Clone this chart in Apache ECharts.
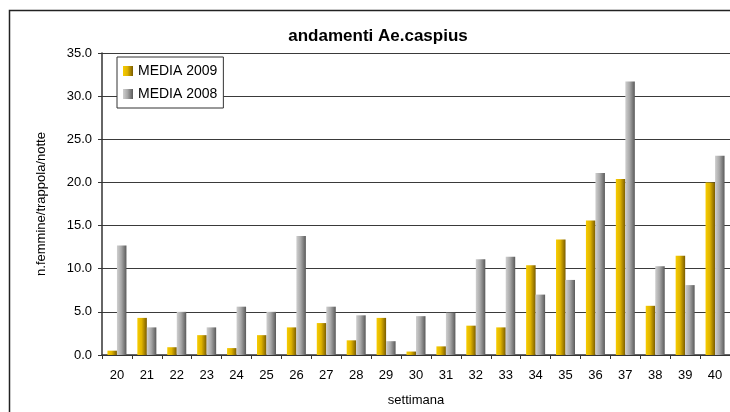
<!DOCTYPE html>
<html>
<head>
<meta charset="UTF-8">
<title>andamenti Ae.caspius</title>
<script src="https://cdn.jsdelivr.net/npm/echarts@6/dist/echarts.min.js"></script>
<style>
html, body { margin: 0; padding: 0; background: #fff; }
#chart { width: 730px; height: 412px; }
</style>
</head>
<body>
<div id="chart"></div>
<script>
// settimane e medie (n. femmine / trappola / notte)
var weeks = ['20','21','22','23','24','25','26','27','28','29','30','31','32','33','34','35','36','37','38','39','40'];
var media2009 = [0.5, 4.3, 0.9, 2.3, 0.8, 2.3, 3.2, 3.7, 1.7, 4.3, 0.4, 1.0, 3.4, 3.2, 10.4, 13.4, 15.6, 20.4, 5.7, 11.5, 20.0];
var media2008 = [12.7, 3.2, 5.0, 3.2, 5.6, 5.0, 13.8, 5.6, 4.6, 1.6, 4.5, 4.9, 11.1, 11.4, 7.0, 8.7, 21.1, 31.7, 10.3, 8.1, 23.1];

function hgrad(c0, c1, c2) {
    return new echarts.graphic.LinearGradient(0, 0, 1, 0, [
        { offset: 0, color: c0 },
        { offset: 0.45, color: c1 },
        { offset: 1, color: c2 }
    ]);
}
var gold = hgrad('#f7cc00', '#e0b400', '#7a5c00');
var grey = hgrad('#cfcfcf', '#a8a8a8', '#5a5a5a');

var chart = echarts.init(document.getElementById('chart'));
chart.setOption({
    animation: false,
    textStyle: { fontFamily: 'Liberation Sans, Arial, sans-serif' },
    graphic: [
        { type: 'rect', shape: { x: 9.5, y: 10.5, width: 800, height: 500 },
          style: { fill: 'none', stroke: '#222', lineWidth: 1.5 }, silent: true }
    ],
    title: {
        text: 'andamenti Ae.caspius',
        left: 373, top: 23, textAlign: 'center',
        textStyle: { fontSize: 17, fontWeight: 'bold', color: '#000' }
    },
    legend: {
        orient: 'vertical',
        left: 117, top: 57,
        padding: [7, 6, 7, 6],
        itemGap: 9,
        itemWidth: 10, itemHeight: 10,
        backgroundColor: '#fff',
        borderColor: '#333', borderWidth: 1,
        borderRadius: 0,
        textStyle: { fontSize: 14, color: '#000' },
        data: [
            { name: 'MEDIA 2009', icon: 'rect' },
            { name: 'MEDIA 2008', icon: 'rect' }
        ]
    },
    grid: { left: 102, top: 53, width: 636, height: 305, containLabel: false },
    xAxis: {
        type: 'category',
        data: weeks,
        name: 'settimana',
        nameLocation: 'middle',
        nameGap: 39,
        nameTextStyle: { fontSize: 13, color: '#000' },
        axisLine: { lineStyle: { color: '#333', width: 1.5 } },
        axisTick: { show: true, length: 4, lineStyle: { color: '#333' } },
        axisLabel: { fontSize: 13, color: '#000', margin: 14 }
    },
    yAxis: {
        type: 'value',
        min: 0, max: 35, interval: 5,
        name: 'n.femmine/trappola/notte',
        nameLocation: 'middle',
        nameGap: 54,
        nameTextStyle: { fontSize: 13, color: '#000' },
        axisLine: { show: true, lineStyle: { color: '#333', width: 1.5 } },
        axisTick: { show: true, length: 4, lineStyle: { color: '#333' } },
        axisLabel: { fontSize: 13, color: '#000', margin: 10,
            formatter: function (v) { return v.toFixed(1); } },
        splitLine: { show: true, lineStyle: { color: '#3a3a3a', width: 1 } }
    },
    series: [
        { name: 'MEDIA 2009', type: 'bar', data: media2009, barWidth: 9.5, barGap: '0%',
          itemStyle: { color: gold } },
        { name: 'MEDIA 2008', type: 'bar', data: media2008, barWidth: 9.5, barGap: '0%',
          itemStyle: { color: grey } }
    ]
});
</script>
</body>
</html>
